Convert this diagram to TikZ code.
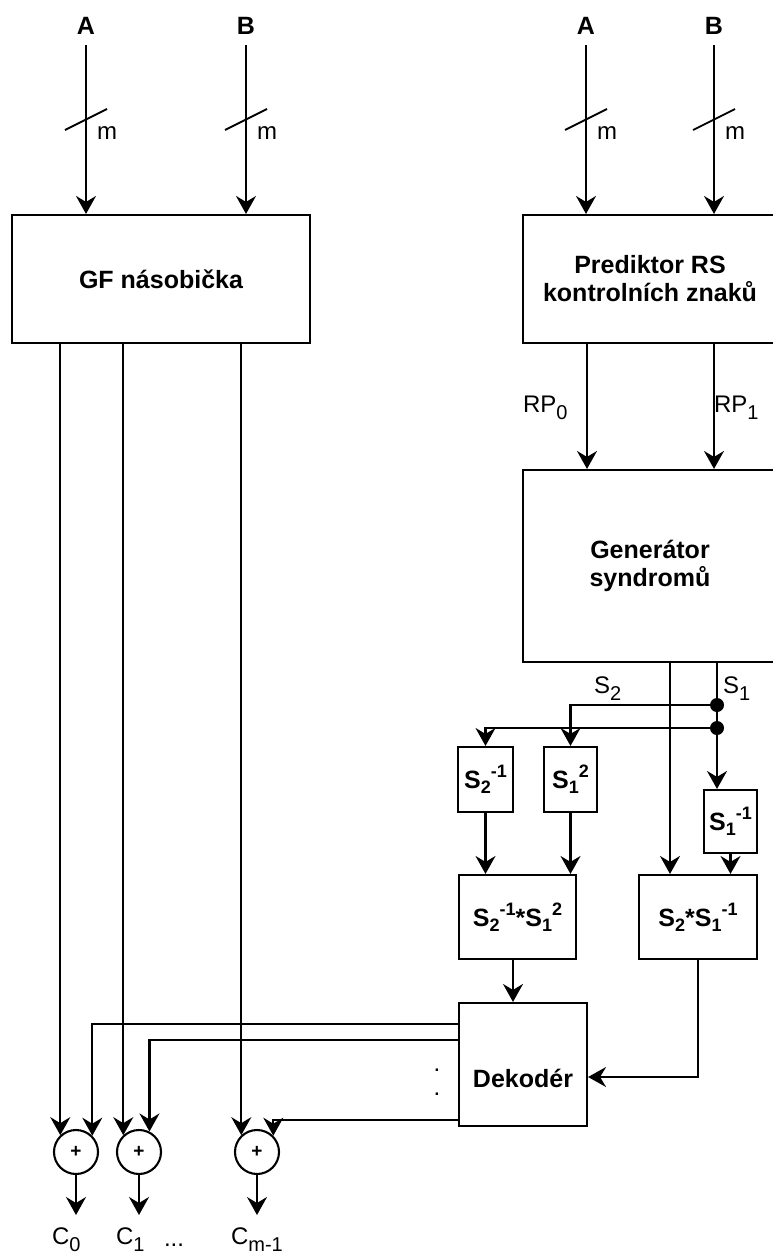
\documentclass[tikz,border=0pt]{standalone}
\usepackage{fontspec}
\setmainfont{Liberation Sans}
\usetikzlibrary{arrows.meta,calc}
\newcommand\bsub[1]{\raisebox{-5pt}{\fontsize{18}{18}\selectfont #1}}
\newcommand\bsup[1]{\raisebox{11pt}{\fontsize{18}{18}\selectfont #1}}
\newcommand\rsub[1]{\raisebox{-7pt}{\fontsize{20}{20}\selectfont #1}}
\begin{document}
\begin{tikzpicture}[x=1pt,y=-1pt,
  line width=2.1pt,
  arr/.style={-{Stealth[length=18pt,width=20pt,inset=6pt]}},
  blk/.style={draw,rectangle,minimum width=#1,inner sep=0pt,align=center,font=\fontsize{25}{30}\selectfont\bfseries},
  lbl/.style={inner sep=0pt,font=\fontsize{24}{28}\selectfont},
  blbl/.style={inner sep=0pt,font=\fontsize{25}{28}\selectfont\bfseries},
  adder/.style={draw,circle,minimum size=44pt,inner sep=0pt,font=\fontsize{19}{19}\selectfont\bfseries},
  dot/.style={circle,fill,inner sep=0pt,minimum size=14pt}]
\useasboundingbox (0,0) rectangle (773,1253);
\clip (0,0) rectangle (773,1253);
% boxes
\node[blk=298pt,minimum height=128pt] (gf) at (161,279) {GF násobička};
\node[blk=254pt,minimum height=128pt] (pred) at (650,279) {Prediktor RS\\[-2pt]kontrolních znaků};
\node[blk=254pt,minimum height=192pt] (gen) at (650,566) {Generátor\\[-2pt]syndromů};
\node[blk=55pt,minimum height=65pt] (s2i) at (485.5,779.5) {S\bsub{2}\bsup{-1}};
\node[blk=53pt,minimum height=65pt] (s12) at (570.5,779.5) {S\bsub{1}\bsup{2}};
\node[blk=53pt,minimum height=63pt] (s1i) at (730.5,821.5) {S\bsub{1}\bsup{-1}};
\node[blk=117pt,minimum height=84pt] (prodA) at (517.5,917) {S\bsub{2}\bsup{-1}*S\bsub{1}\bsup{2}};
\node[blk=118pt,minimum height=84pt] (prodB) at (698,917) {S\bsub{2}*S\bsub{1}\bsup{-1}};
\node[draw,rectangle,minimum width=128pt,minimum height=123pt,inner sep=0pt] (dek) at (523,1064.5) {};
\node[inner sep=0pt,font=\fontsize{25}{30}\selectfont\bfseries] (dektxt) at (523,1078) {Dekodér};
% inputs
\node[blbl] (inA1) at (86,26) {A};
\node[blbl] (inB1) at (246,26) {B};
\node[blbl] (inA2) at (586,26) {A};
\node[blbl] (inB2) at (714,26) {B};
\coordinate (sA1) at (86,45);
\coordinate (sB1) at (246,45);
\coordinate (sA2) at (586,45);
\coordinate (sB2) at (714,45);
\draw[arr] (sA1) -- (sA1 |- gf.north);
\draw[arr] (sB1) -- (sB1 |- gf.north);
\draw[arr] (sA2) -- (sA2 |- pred.north);
\draw[arr] (sB2) -- (sB2 |- pred.north);
\foreach \xx/\nm in {86/m1,246/m2,586/m3,714/m4}{
  \draw[line width=1.8pt] (\xx-21,130) -- (\xx+21,109);
  \node[lbl] (\nm) at (\xx+21,133) {m};
}
% RP
\coordinate (rp0) at (587,0);
\coordinate (rp1) at (714,0);
\draw[arr] (rp0 |- pred.south) -- (rp0 |- gen.north);
\draw[arr] (rp1 |- pred.south) -- (rp1 |- gen.north);
\node[lbl,anchor=base west] (lrp0) at (522,412) {RP\rsub{0}};
\node[lbl,anchor=base west] (lrp1) at (713,412) {RP\rsub{1}};
% syndromes
\coordinate (xs2) at (670,0);
\coordinate (xs1) at (717,0);
\node[dot] (d1) at (717,705) {};
\node[dot] (d2) at (717,728) {};
\draw (xs1 |- gen.south) -- (d1.center) -- (d2.center);
\draw[arr] (d2.center) -- (s1i.north -| d2);
\draw[arr] (d1.center) -| (s12.north);
\draw[arr] (d2.center) -| (s2i.north);
\draw[arr] (xs2 |- gen.south) -- (xs2 |- prodB.north);
\node[lbl,anchor=base west] (ls2) at (593,693) {S\rsub{2}};
\node[lbl,anchor=base west] (ls1) at (722,693) {S\rsub{1}};
% products
\draw[arr] (s2i.south) -- (s2i.south |- prodA.north);
\draw[arr] (s12.south) -- (s12.south |- prodA.north);
\draw[arr] (s1i.south) -- (s1i.south |- prodB.north);
\draw[arr] (prodA.south -| 513,0) -- (dek.north -| 513,0);
\coordinate (yd) at (0,1077);
\draw[arr] (prodB.south) |- (dek.east |- yd);
% adders
\node[adder] (a1) at (76,1152) {+};
\node[adder] (a2) at (139,1152) {+};
\node[adder] (a3) at (257,1152) {+};
\draw[arr] (a1.133 |- gf.south) -- (a1.133);
\draw[arr] (a2.133 |- gf.south) -- (a2.133);
\draw[arr] (a3.133 |- gf.south) -- (a3.133);
\coordinate (yo1) at (0,1024);
\coordinate (yo2) at (0,1040);
\coordinate (yo3) at (0,1120);
\draw[arr] (dek.west |- yo1) -| (a1.45);
\draw[arr] (dek.west |- yo2) -| (a2.63);
\draw[arr] (dek.west |- yo3) -| (a3.45);
\node[lbl] (dt1) at (437,1070) {.};
\node[lbl] (dt2) at (437,1094) {.};
% outputs
\coordinate (o1) at (76,1215);
\coordinate (o2) at (139,1215);
\coordinate (o3) at (257,1215);
\draw[arr] (a1.south) -- (o1);
\draw[arr] (a2.south) -- (o2);
\draw[arr] (a3.south) -- (o3);
\node[lbl,anchor=base west] (c0) at (51,1244) {C\rsub{0}};
\node[lbl,anchor=base west] (c1) at (115,1244) {C\rsub{1}};
\node[lbl,anchor=base west] (cd) at (163,1246) {...};
\node[lbl,anchor=base west] (cm) at (230,1244) {C\rsub{m-1}};
\end{tikzpicture}
\end{document}
